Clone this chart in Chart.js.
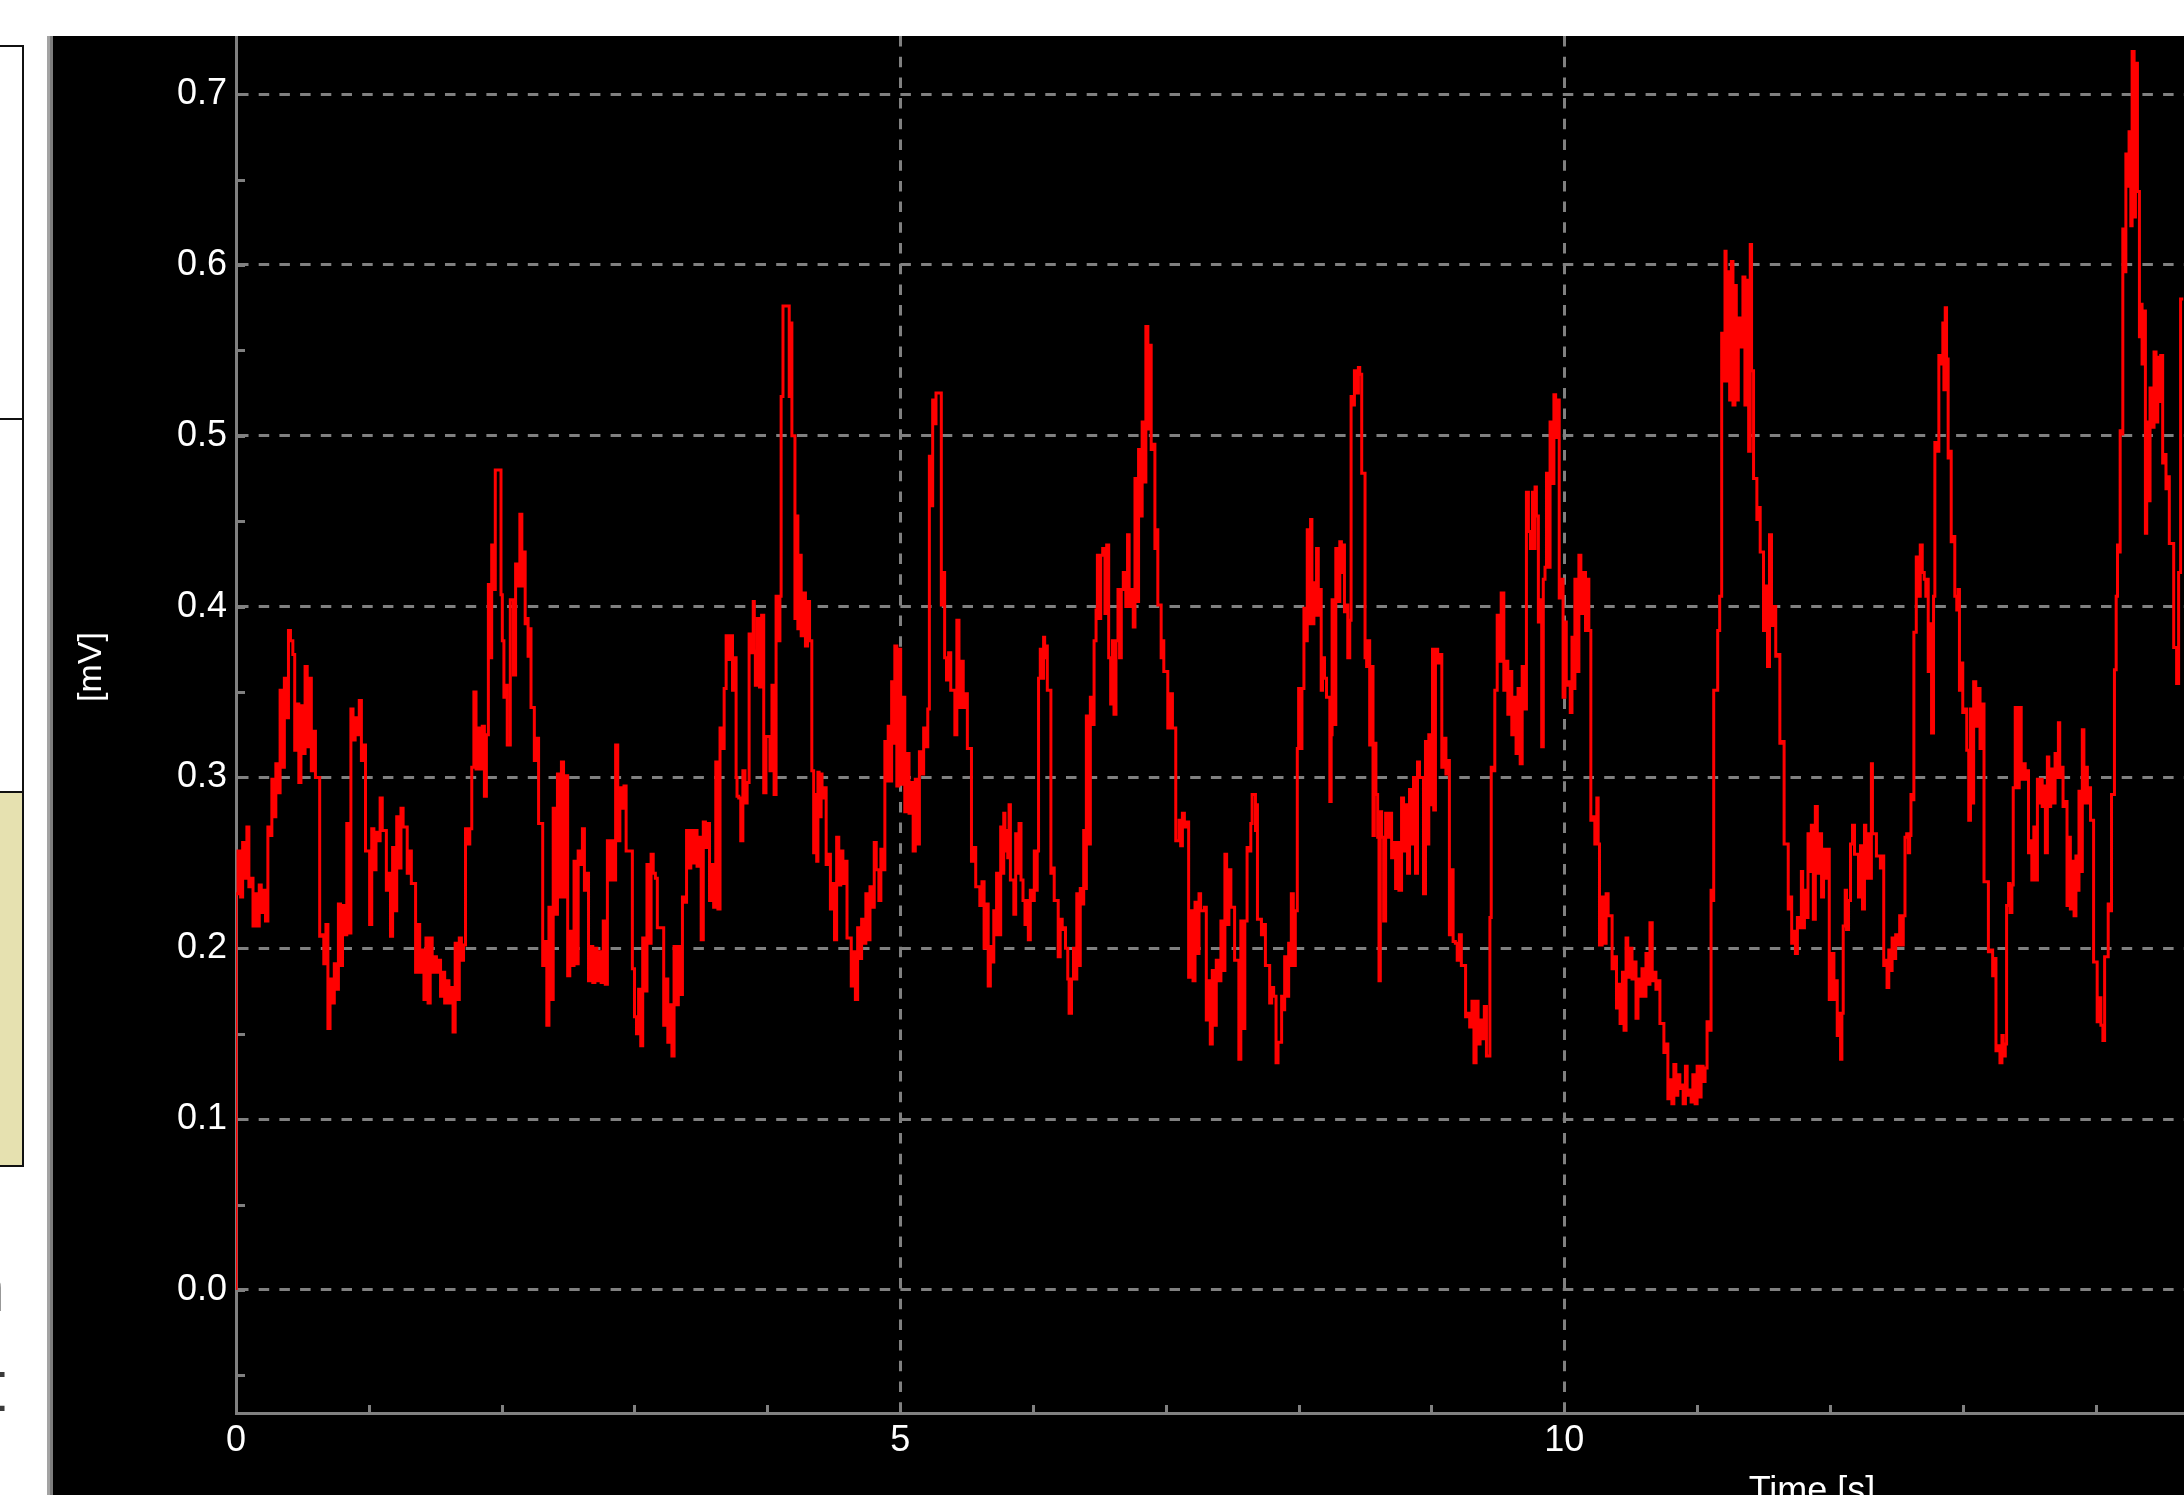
<!DOCTYPE html>
<html>
<head>
<meta charset="utf-8">
<script src="https://cdn.jsdelivr.net/npm/chart.js@4.4.1/dist/chart.umd.min.js"></script>
<style>
  html, body { margin: 0; padding: 0; }
  body { width: 2184px; height: 1495px; overflow: hidden; background: #ffffff; position: relative; font-family: 'Liberation Sans', Arial, sans-serif; }
  .box { position: absolute; left: -10px; width: 34px; border: 2px solid #111; box-sizing: border-box; }
  .glyph { position: absolute; font-family: 'DejaVu Sans', sans-serif; font-size: 72px; color: #3a3a3a; line-height: 1; }
  #plotWrap { position: absolute; left: 53px; top: 36px; width: 2131px; height: 1459px; overflow: hidden; background: #000000; }
  #chart { display: block; }
</style>
</head>
<body>
<div class="box" style="top:45px;height:375px;background:#ffffff"></div>
<div class="box" style="top:418px;height:375px;background:#ffffff"></div>
<div class="box" style="top:791px;height:376px;background:#e6e1b0"></div>
<div class="glyph" style="left:-39px;top:1250px">n</div>
<div class="glyph" style="left:-22px;top:1350px">t</div>
<div style="position:absolute;left:47px;top:36px;width:3px;height:1459px;background:#a3a3a3"></div>
<div style="position:absolute;left:50px;top:36px;width:3px;height:1459px;background:#7d7d7d"></div>
<div id="plotWrap"><canvas id="chart" width="3335" height="1520"></canvas></div>
<script>
// ---- data: [time in s, value in mV] ----
const trace0to5s = [
[0.000,0.000],[0.015,0.232],[0.035,0.257],[0.050,0.230],[0.066,0.262],[0.082,0.241],[0.097,0.271],[0.115,0.236],
[0.128,0.241],[0.145,0.213],[0.160,0.232],[0.175,0.213],[0.190,0.237],[0.205,0.221],[0.222,0.234],[0.240,0.216],
[0.254,0.271],[0.270,0.266],[0.286,0.299],[0.300,0.277],[0.316,0.308],[0.332,0.291],[0.348,0.351],[0.364,0.306],
[0.379,0.358],[0.395,0.335],[0.410,0.386],[0.428,0.380],[0.442,0.372],[0.458,0.316],[0.473,0.343],[0.489,0.297],
[0.504,0.342],[0.520,0.314],[0.536,0.365],[0.552,0.318],[0.567,0.358],[0.583,0.304],[0.598,0.327],[0.614,0.300],
[0.630,0.300],[0.646,0.207],[0.661,0.208],[0.677,0.191],[0.692,0.214],[0.708,0.153],[0.724,0.182],[0.740,0.168],
[0.755,0.191],[0.771,0.176],[0.787,0.226],[0.802,0.190],[0.818,0.225],[0.834,0.208],[0.850,0.273],[0.865,0.209],
[0.881,0.340],[0.897,0.322],[0.912,0.335],[0.928,0.325],[0.944,0.345],[0.960,0.310],[0.975,0.319],[0.991,0.257],
[1.006,0.257],[1.022,0.214],[1.038,0.270],[1.054,0.246],[1.069,0.268],[1.085,0.263],[1.101,0.288],[1.116,0.269],
[1.132,0.269],[1.148,0.234],[1.163,0.244],[1.179,0.207],[1.195,0.259],[1.210,0.222],[1.226,0.277],[1.242,0.247],
[1.258,0.282],[1.273,0.271],[1.289,0.271],[1.305,0.244],[1.320,0.257],[1.336,0.238],[1.352,0.238],[1.367,0.186],
[1.383,0.214],[1.399,0.186],[1.415,0.199],[1.430,0.170],[1.446,0.206],[1.462,0.168],[1.477,0.206],[1.493,0.186],
[1.509,0.195],[1.524,0.186],[1.540,0.193],[1.556,0.172],[1.571,0.186],[1.587,0.168],[1.603,0.181],[1.619,0.168],
[1.634,0.177],[1.650,0.151],[1.666,0.203],[1.681,0.170],[1.697,0.206],[1.713,0.193],[1.728,0.202],[1.744,0.270],
[1.760,0.261],[1.775,0.270],[1.791,0.306],[1.807,0.350],[1.822,0.305],[1.838,0.329],[1.854,0.305],[1.870,0.330],
[1.885,0.289],[1.900,0.325],[1.910,0.413],[1.925,0.370],[1.939,0.436],[1.952,0.410],[1.964,0.480],[1.995,0.480],
[2.005,0.407],[2.017,0.380],[2.030,0.347],[2.042,0.354],[2.065,0.319],[2.089,0.404],[2.105,0.360],[2.121,0.425],
[2.137,0.412],[2.152,0.454],[2.165,0.412],[2.177,0.432],[2.188,0.390],[2.199,0.393],[2.210,0.371],[2.221,0.387],
[2.235,0.341],[2.246,0.341],[2.262,0.310],[2.278,0.323],[2.294,0.273],[2.309,0.273],[2.325,0.190],[2.340,0.204],
[2.356,0.155],[2.372,0.224],[2.388,0.170],[2.403,0.282],[2.420,0.220],[2.435,0.302],[2.450,0.230],[2.466,0.309],
[2.482,0.230],[2.497,0.301],[2.513,0.184],[2.529,0.210],[2.545,0.190],[2.560,0.251],[2.576,0.191],[2.592,0.257],
[2.608,0.249],[2.623,0.270],[2.639,0.234],[2.654,0.244],[2.670,0.181],[2.686,0.201],[2.702,0.180],[2.717,0.200],
[2.733,0.181],[2.749,0.198],[2.765,0.180],[2.780,0.216],[2.796,0.179],[2.811,0.263],[2.827,0.240],[2.843,0.263],
[2.858,0.240],[2.874,0.319],[2.890,0.263],[2.905,0.294],[2.921,0.282],[2.937,0.295],[2.952,0.257],[2.968,0.257],
[2.984,0.257],[3.000,0.188],[3.015,0.160],[3.031,0.150],[3.047,0.176],[3.062,0.143],[3.078,0.206],[3.094,0.175],
[3.109,0.249],[3.125,0.203],[3.141,0.255],[3.157,0.244],[3.172,0.241],[3.188,0.212],[3.220,0.212],[3.236,0.155],
[3.251,0.182],[3.267,0.145],[3.282,0.167],[3.298,0.137],[3.314,0.201],[3.330,0.167],[3.345,0.201],[3.361,0.173],
[3.376,0.230],[3.392,0.227],[3.408,0.269],[3.424,0.247],[3.440,0.269],[3.456,0.250],[3.471,0.269],[3.487,0.248],
[3.502,0.265],[3.518,0.205],[3.534,0.274],[3.550,0.259],[3.565,0.273],[3.581,0.228],[3.596,0.249],[3.612,0.224],
[3.628,0.309],[3.644,0.223],[3.659,0.329],[3.675,0.317],[3.690,0.352],[3.706,0.383],[3.722,0.369],[3.738,0.383],
[3.753,0.351],[3.765,0.370],[3.772,0.300],[3.785,0.289],[3.800,0.288],[3.816,0.263],[3.832,0.304],[3.848,0.285],
[3.863,0.297],[3.879,0.384],[3.894,0.373],[3.902,0.403],[3.910,0.374],[3.925,0.354],[3.941,0.393],[3.957,0.353],
[3.973,0.395],[3.990,0.291],[4.020,0.324],[4.035,0.304],[4.051,0.354],[4.066,0.290],[4.078,0.406],[4.095,0.380],
[4.104,0.406],[4.118,0.523],[4.129,0.576],[4.165,0.576],[4.177,0.523],[4.185,0.566],[4.200,0.500],[4.208,0.500],
[4.222,0.393],[4.230,0.453],[4.245,0.387],[4.255,0.430],[4.272,0.383],[4.287,0.408],[4.303,0.377],[4.318,0.403],
[4.335,0.380],[4.349,0.304],[4.360,0.256],[4.372,0.290],[4.381,0.251],[4.390,0.303],[4.405,0.277],[4.412,0.302],
[4.430,0.288],[4.443,0.294],[4.460,0.249],[4.475,0.255],[4.490,0.223],[4.506,0.238],[4.522,0.205],[4.538,0.265],
[4.553,0.237],[4.569,0.257],[4.585,0.238],[4.600,0.251],[4.616,0.206],[4.632,0.206],[4.648,0.178],[4.663,0.198],
[4.680,0.170],[4.695,0.212],[4.710,0.194],[4.726,0.217],[4.742,0.203],[4.757,0.232],[4.773,0.205],[4.789,0.236],
[4.805,0.224],[4.820,0.262],[4.840,0.246]
];
const trace5to10s = [
[4.855,0.228],[4.870,0.258],[4.885,0.246],[4.895,0.321],[4.910,0.298],[4.925,0.330],[4.936,0.298],[4.950,0.356],
[4.960,0.320],[4.975,0.377],[4.990,0.295],[5.004,0.375],[5.020,0.296],[5.035,0.347],[5.052,0.280],[5.067,0.314],
[5.083,0.279],[5.098,0.297],[5.114,0.257],[5.129,0.299],[5.145,0.261],[5.161,0.315],[5.177,0.302],[5.192,0.329],
[5.208,0.318],[5.220,0.340],[5.230,0.488],[5.245,0.459],[5.255,0.521],[5.270,0.507],[5.286,0.525],[5.310,0.525],
[5.320,0.401],[5.335,0.420],[5.349,0.370],[5.365,0.357],[5.381,0.373],[5.396,0.351],[5.412,0.351],[5.427,0.325],
[5.443,0.392],[5.460,0.341],[5.475,0.368],[5.490,0.341],[5.506,0.349],[5.522,0.317],[5.537,0.317],[5.553,0.251],
[5.569,0.259],[5.585,0.236],[5.600,0.236],[5.616,0.225],[5.632,0.239],[5.648,0.200],[5.663,0.226],[5.679,0.178],
[5.694,0.201],[5.705,0.192],[5.716,0.222],[5.726,0.208],[5.742,0.244],[5.757,0.208],[5.767,0.271],[5.780,0.244],
[5.789,0.279],[5.800,0.257],[5.810,0.269],[5.820,0.253],[5.830,0.284],[5.845,0.240],[5.856,0.240],[5.870,0.220],
[5.880,0.267],[5.895,0.244],[5.910,0.273],[5.925,0.240],[5.940,0.228],[5.955,0.214],[5.965,0.228],[5.980,0.205],
[5.995,0.234],[6.010,0.228],[6.020,0.257],[6.032,0.234],[6.042,0.257],[6.055,0.358],[6.068,0.375],[6.080,0.358],
[6.088,0.382],[6.100,0.370],[6.108,0.377],[6.125,0.351],[6.135,0.351],[6.150,0.244],[6.160,0.247],[6.175,0.228],
[6.190,0.228],[6.205,0.195],[6.220,0.217],[6.232,0.211],[6.245,0.212],[6.262,0.200],[6.272,0.182],[6.290,0.162],
[6.305,0.182],[6.318,0.200],[6.330,0.182],[6.342,0.232],[6.356,0.190],[6.372,0.235],[6.382,0.226],[6.390,0.269],
[6.402,0.235],[6.420,0.336],[6.432,0.261],[6.448,0.347],[6.460,0.331],[6.475,0.380],[6.485,0.398],[6.495,0.430],
[6.510,0.393],[6.525,0.430],[6.542,0.434],[6.555,0.396],[6.570,0.436],[6.585,0.370],[6.598,0.343],[6.610,0.380],
[6.625,0.337],[6.640,0.380],[6.652,0.410],[6.665,0.370],[6.680,0.410],[6.699,0.420],[6.712,0.400],[6.724,0.442],
[6.735,0.400],[6.755,0.410],[6.768,0.388],[6.780,0.475],[6.795,0.403],[6.810,0.492],[6.822,0.453],[6.835,0.508],
[6.850,0.473],[6.865,0.564],[6.880,0.504],[6.890,0.553],[6.905,0.492],[6.918,0.495],[6.930,0.434],[6.940,0.445],
[6.955,0.401],[6.965,0.401],[6.975,0.370],[6.985,0.380],[7.000,0.362],[7.015,0.362],[7.035,0.329],[7.050,0.349],
[7.065,0.329],[7.075,0.329],[7.100,0.263],[7.112,0.275],[7.125,0.260],[7.140,0.279],[7.160,0.271],[7.172,0.274],
[7.190,0.183],[7.205,0.222],[7.220,0.181],[7.235,0.227],[7.250,0.197],[7.262,0.232],[7.290,0.222],[7.305,0.224],
[7.320,0.158],[7.335,0.181],[7.350,0.144],[7.365,0.187],[7.380,0.155],[7.395,0.193],[7.415,0.181],[7.425,0.216],
[7.445,0.187],[7.458,0.255],[7.475,0.214],[7.490,0.246],[7.505,0.224],[7.518,0.224],[7.535,0.193],[7.550,0.193],
[7.565,0.135],[7.580,0.216],[7.595,0.153],[7.612,0.216],[7.628,0.259],[7.640,0.257],[7.650,0.273],[7.675,0.290],
[7.685,0.269],[7.690,0.284],[7.705,0.217],[7.720,0.217],[7.735,0.208],[7.750,0.214],[7.765,0.190],[7.782,0.190],
[7.797,0.168],[7.812,0.177],[7.830,0.172],[7.845,0.133],[7.872,0.145],[7.880,0.172],[7.895,0.164],[7.910,0.195],
[7.925,0.172],[7.935,0.203],[7.945,0.190],[7.960,0.232],[7.975,0.190],[7.990,0.222],[8.000,0.317],[8.010,0.352],
[8.025,0.317],[8.040,0.352],[8.050,0.399],[8.065,0.380],[8.075,0.445],[8.090,0.390],[8.100,0.451],[8.115,0.390],
[8.125,0.414],[8.135,0.395],[8.148,0.434],[8.160,0.395],[8.170,0.410],[8.180,0.351],[8.195,0.370],[8.210,0.358],
[8.225,0.347],[8.235,0.347],[8.245,0.286],[8.252,0.325],[8.265,0.404],[8.280,0.331],[8.295,0.434],[8.310,0.403],
[8.322,0.438],[8.332,0.420],[8.345,0.436],[8.356,0.397],[8.370,0.401],[8.385,0.370],[8.395,0.392],[8.405,0.523],
[8.420,0.518],[8.432,0.538],[8.450,0.525],[8.460,0.540],[8.475,0.536],[8.488,0.478],[8.500,0.478],[8.512,0.370],
[8.522,0.365],[8.535,0.380],[8.545,0.319],[8.560,0.365],[8.570,0.266],[8.582,0.320],[8.595,0.290],[8.605,0.265],
[8.615,0.181],[8.625,0.280],[8.640,0.265],[8.655,0.216],[8.670,0.279],[8.685,0.265],[8.700,0.279],[8.715,0.253],
[8.730,0.262],[8.742,0.235],[8.755,0.262],[8.775,0.234],[8.790,0.288],[8.805,0.257],[8.820,0.284],[8.835,0.244],
[8.850,0.293],[8.865,0.261],[8.880,0.300],[8.895,0.244],[8.910,0.309],[8.925,0.300],[8.940,0.300],[8.955,0.232],
[8.965,0.321],[8.980,0.261],[8.995,0.325],[9.008,0.284],[9.017,0.375],[9.030,0.281],[9.047,0.375],[9.062,0.367],
[9.078,0.372],[9.095,0.306],[9.109,0.323],[9.125,0.302],[9.135,0.310],[9.150,0.208],[9.163,0.246],[9.180,0.204],
[9.194,0.203],[9.210,0.193],[9.225,0.208],[9.240,0.190],[9.257,0.190],[9.272,0.160],[9.288,0.162],[9.305,0.154],
[9.320,0.169],[9.336,0.133],[9.351,0.169],[9.366,0.144],[9.382,0.158],[9.398,0.147],[9.414,0.166],[9.440,0.137],
[9.450,0.218],[9.465,0.306],[9.477,0.304],[9.495,0.351],[9.510,0.395],[9.525,0.368],[9.545,0.408],[9.560,0.351],
[9.575,0.368],[9.590,0.337],[9.605,0.362],[9.620,0.325],[9.637,0.347],[9.652,0.314],[9.668,0.352],[9.683,0.308],
[9.700,0.365],[9.715,0.340],[9.730,0.467],[9.745,0.444]
];
const trace10to15s = [
[9.760,0.434],[9.770,0.467],[9.780,0.434],[9.790,0.470],[9.805,0.453],[9.820,0.391],[9.830,0.404],[9.842,0.318],
[9.855,0.416],[9.866,0.423],[9.880,0.478],[9.893,0.423],[9.910,0.508],[9.922,0.472],[9.935,0.524],[9.950,0.499],
[9.962,0.521],[9.975,0.405],[9.991,0.416],[10.005,0.347],[10.015,0.391],[10.028,0.354],[10.045,0.356],[10.058,0.338],
[10.068,0.382],[10.080,0.352],[10.095,0.416],[10.110,0.362],[10.125,0.430],[10.140,0.396],[10.160,0.420],[10.175,0.386],
[10.185,0.416],[10.200,0.386],[10.215,0.275],[10.230,0.277],[10.245,0.261],[10.255,0.288],[10.265,0.261],[10.285,0.202],
[10.300,0.230],[10.315,0.203],[10.330,0.232],[10.345,0.219],[10.360,0.219],[10.380,0.188],[10.393,0.195],[10.408,0.165],
[10.420,0.179],[10.438,0.156],[10.450,0.186],[10.465,0.152],[10.478,0.206],[10.495,0.183],[10.510,0.200],[10.525,0.182],
[10.540,0.192],[10.555,0.159],[10.572,0.182],[10.585,0.172],[10.602,0.188],[10.615,0.172],[10.630,0.197],[10.645,0.179],
[10.662,0.215],[10.675,0.181],[10.690,0.186],[10.705,0.176],[10.720,0.181],[10.738,0.156],[10.750,0.156],[10.768,0.139],
[10.780,0.144],[10.795,0.112],[10.810,0.123],[10.825,0.109],[10.840,0.132],[10.855,0.114],[10.870,0.126],[10.885,0.118],
[10.895,0.120],[10.912,0.109],[10.925,0.131],[10.940,0.114],[10.955,0.117],[10.968,0.110],[10.985,0.126],[11.000,0.109],
[11.015,0.131],[11.030,0.113],[11.045,0.131],[11.060,0.122],[11.075,0.130],[11.088,0.157],[11.105,0.152],[11.115,0.234],
[11.125,0.228],[11.140,0.351],[11.155,0.351],[11.170,0.386],[11.185,0.406],[11.195,0.560],[11.210,0.532],[11.218,0.608],
[11.232,0.532],[11.245,0.596],[11.258,0.521],[11.270,0.602],[11.285,0.518],[11.295,0.588],[11.310,0.521],[11.325,0.569],
[11.345,0.552],[11.360,0.593],[11.375,0.518],[11.388,0.591],[11.400,0.491],[11.410,0.612],[11.425,0.538],[11.440,0.475],
[11.450,0.475],[11.463,0.451],[11.475,0.458],[11.490,0.432],[11.500,0.432],[11.515,0.386],[11.530,0.412],[11.545,0.365],
[11.560,0.442],[11.575,0.389],[11.592,0.400],[11.608,0.371],[11.623,0.372],[11.640,0.320],[11.655,0.321],[11.672,0.261],
[11.686,0.261],[11.700,0.223],[11.712,0.230],[11.728,0.203],[11.740,0.210],[11.755,0.197],[11.770,0.218],[11.785,0.212],
[11.795,0.245],[11.808,0.212],[11.820,0.234],[11.835,0.218],[11.845,0.267],[11.860,0.245],[11.875,0.272],[11.890,0.217],
[11.905,0.283],[11.920,0.244],[11.937,0.267],[11.952,0.230],[11.968,0.258],[11.983,0.241],[11.995,0.258],[12.015,0.170],
[12.030,0.197],[12.045,0.170],[12.055,0.181],[12.070,0.149],[12.080,0.162],[12.090,0.135],[12.100,0.162],[12.115,0.213],
[12.125,0.234],[12.140,0.211],[12.155,0.228],[12.170,0.261],[12.185,0.272],[12.200,0.255],[12.215,0.255],[12.230,0.230],
[12.245,0.260],[12.260,0.223],[12.270,0.272],[12.285,0.241],[12.300,0.267],[12.312,0.241],[12.320,0.308],[12.340,0.267],
[12.350,0.267],[12.365,0.254],[12.380,0.254],[12.392,0.247],[12.405,0.254],[12.420,0.190],[12.430,0.193],[12.443,0.177],
[12.455,0.199],[12.468,0.187],[12.480,0.206],[12.495,0.194],[12.510,0.208],[12.525,0.202],[12.540,0.219],[12.552,0.202],
[12.565,0.219],[12.578,0.265],[12.590,0.267],[12.600,0.256],[12.610,0.266],[12.622,0.290],[12.632,0.287],[12.650,0.385],
[12.665,0.429],[12.680,0.406],[12.695,0.436],[12.710,0.420],[12.722,0.416],[12.732,0.406],[12.740,0.416],[12.753,0.362],
[12.765,0.390],[12.780,0.326],[12.790,0.406],[12.805,0.496],[12.820,0.491],[12.835,0.547],[12.850,0.542],[12.858,0.566],
[12.868,0.527],[12.878,0.575],[12.890,0.545],[12.905,0.487],[12.913,0.491],[12.930,0.438],[12.940,0.441],[12.955,0.406],
[12.965,0.398],[12.975,0.410],[12.985,0.351],[13.000,0.367],[13.015,0.338],[13.030,0.340],[13.045,0.316],[13.058,0.275],
[13.070,0.340],[13.082,0.285],[13.098,0.356],[13.115,0.330],[13.130,0.352],[13.145,0.317],[13.160,0.343],[13.180,0.239],
[13.193,0.239],[13.210,0.198],[13.225,0.199],[13.240,0.184],[13.250,0.194],[13.268,0.140],[13.280,0.143],[13.295,0.133],
[13.305,0.149],[13.320,0.137],[13.330,0.144],[13.345,0.225],[13.355,0.238],[13.370,0.221],[13.380,0.237],[13.395,0.294],
[13.410,0.341],[13.425,0.294],[13.440,0.341],[13.455,0.299],[13.470,0.308],[13.482,0.299],[13.495,0.304],[13.510,0.256],
[13.520,0.263],[13.535,0.240],[13.548,0.271],[13.562,0.240],[13.572,0.299],[13.588,0.285],[13.598,0.299],[13.612,0.283],
[13.622,0.295],[13.637,0.256],[13.648,0.312],[13.662,0.283],[13.680,0.305],[13.695,0.285],[13.705,0.314],[13.720,0.300],
[13.730,0.332],[13.745,0.300],[13.755,0.306],[13.770,0.283],[13.785,0.286],[13.800,0.225],[13.810,0.265],[13.825,0.223],
[13.838,0.251],[13.852,0.219],[13.862,0.254],[13.875,0.234],[13.888,0.292],[13.900,0.245],[13.912,0.328],[13.925,0.285],
[13.938,0.306],[13.952,0.285],[13.962,0.294],[13.975,0.275],[13.985,0.275],[14.000,0.192],[14.012,0.192],[14.028,0.157],
[14.040,0.171],[14.055,0.155],[14.068,0.146],[14.082,0.195],[14.095,0.195],[14.110,0.226],[14.120,0.222],[14.130,0.290],
[14.142,0.290],[14.155,0.363],[14.165,0.406],[14.175,0.436],[14.185,0.432],[14.200,0.503],[14.205,0.501],[14.218,0.621],
[14.228,0.596],[14.240,0.665],[14.252,0.646],[14.265,0.678],[14.275,0.623],[14.290,0.725],[14.300,0.628],[14.315,0.718],
[14.330,0.643],[14.340,0.558],[14.350,0.577],[14.362,0.542],[14.375,0.573],[14.385,0.443],[14.395,0.508],[14.410,0.462],
[14.425,0.528],[14.440,0.505],[14.455,0.549],[14.468,0.508],[14.480,0.546],[14.490,0.520],[14.505,0.547],[14.515,0.484],
[14.530,0.489],[14.540,0.469],[14.555,0.476],[14.570,0.437],[14.588,0.437],[14.600,0.376],[14.610,0.376],[14.625,0.355],
[14.640,0.420],[14.660,0.580]
];

// axis ranges / tick steps
const xRange = [0, 23.73];      // seconds (plot continues past the window's right edge)
const yRange = [-0.072, 0.734]; // mV
const xMajorStep = 5, xMinorStep = 1;
const yMajorStep = 0.1, yMinorStep = 0.05;
const xTitle = 'Time [s]';
const yTitle = '[mV]';

const FONT = "'Liberation Sans', Arial, sans-serif";
const GRID = '#808080';

const points = trace0to5s.concat(trace5to10s, trace10to15s).map(p => ({x: p[0], y: p[1]}));

const minorTicks = {
  id: 'minorTicks',
  beforeDatasetsDraw(chart) {
    const {ctx, chartArea, scales: {x, y}} = chart;
    ctx.save();
    ctx.strokeStyle = GRID;
    ctx.lineWidth = 3;
    ctx.setLineDash([]);
    ctx.beginPath();
    const kMin = Math.ceil(yRange[0] / yMinorStep), kMax = Math.floor(yRange[1] / yMinorStep);
    for (let k = kMin; k <= kMax; k++) {
      const py = Math.round(y.getPixelForValue(k * yMinorStep)) + 0.5;
      ctx.moveTo(chartArea.left, py);
      ctx.lineTo(chartArea.left + 9, py);
    }
    for (let k = 1; k * xMinorStep < xRange[1]; k++) {
      const px = Math.round(x.getPixelForValue(k * xMinorStep)) + 0.5;
      ctx.moveTo(px, chartArea.bottom);
      ctx.lineTo(px, chartArea.bottom - 8);
    }
    ctx.stroke();
    ctx.restore();
  },
  afterDraw(chart) {
    const {ctx} = chart;
    ctx.save();
    ctx.translate(39, 631);
    ctx.rotate(-Math.PI / 2);
    ctx.font = '34px ' + FONT;
    ctx.fillStyle = '#ffffff';
    ctx.textAlign = 'center';
    ctx.textBaseline = 'middle';
    ctx.fillText(yTitle, 0, 0);
    ctx.restore();
  }
};

new Chart(document.getElementById('chart'), {
  type: 'line',
  data: {
    datasets: [{
      label: 'signal',
      data: points,
      borderColor: '#ff0000',
      borderWidth: 3,
      pointRadius: 0,
      pointHoverRadius: 0,
      fill: false,
      tension: 0,
      stepped: 'after',
      borderJoinStyle: 'miter',
      borderCapStyle: 'butt'
    }]
  },
  options: {
    responsive: false,
    devicePixelRatio: 1,
    animation: false,
    events: [],
    layout: { padding: 0 },
    plugins: { legend: { display: false }, tooltip: { enabled: false }, title: { display: false } },
    scales: {
      x: {
        type: 'linear',
        position: 'bottom',
        min: xRange[0],
        max: xRange[1],
        grid: { color: GRID, lineWidth: 3, drawTicks: false },
        border: { display: true, color: GRID, width: 3, dash: [10.5, 10.2] },
        ticks: {
          stepSize: xMajorStep, includeBounds: false, autoSkip: false, maxRotation: 0,
          color: '#ffffff', font: { family: FONT, size: 36 }, padding: 6,
          callback: v => String(v)
        },
        title: { display: true, text: xTitle, color: '#ffffff', font: { family: FONT, size: 36 }, padding: { top: 0, bottom: 42 } },
        afterFit: s => { s.height = 143; s.paddingLeft = 0; s.paddingRight = 0; }
      },
      y: {
        type: 'linear',
        position: 'left',
        min: yRange[0],
        max: yRange[1],
        grid: { color: GRID, lineWidth: 3, drawTicks: false },
        border: { display: true, color: GRID, width: 3, dash: [10.5, 10.2] },
        ticks: {
          stepSize: yMajorStep, includeBounds: false, autoSkip: false,
          color: '#ffffff', font: { family: FONT, size: 36 }, padding: 9,
          callback: v => v.toFixed(1)
        },
        afterFit: s => { s.width = 183; s.paddingTop = 0; s.paddingBottom = 0; }
      }
    }
  },
  plugins: [minorTicks]
});
</script>
</body>
</html>
